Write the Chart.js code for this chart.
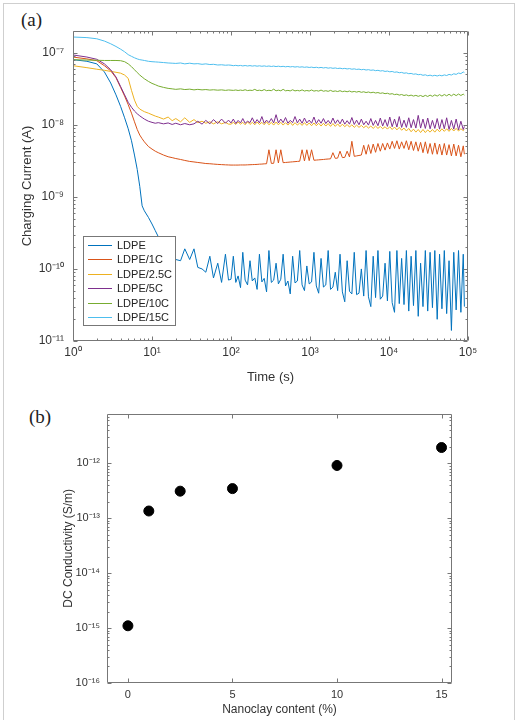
<!DOCTYPE html>
<html><head><meta charset="utf-8">
<script src="https://cdn.jsdelivr.net/npm/chart.js@4"></script>
<style>
html,body{margin:0;padding:0;background:#fff;width:519px;height:720px;overflow:hidden;position:relative;}
#frame{position:absolute;left:3px;top:3px;width:512px;height:760px;border:1.5px solid #cfcfcf;box-sizing:border-box;}
.lab{position:absolute;font-family:'Liberation Serif','Times New Roman',serif;font-size:19px;color:#222;line-height:19px;}
canvas{position:absolute;left:0;}
</style></head><body>
<div id="frame"></div>
<div class="lab" style="left:21px;top:10px">(a)</div>
<div class="lab" style="left:29px;top:407px">(b)</div>
<canvas id="ca" width="519" height="400" style="top:0"></canvas>
<canvas id="cb" width="519" height="320" style="top:400px"></canvas>
<script>
// ---------- data: chart (a) charging current ----------
const seriesNames = ['LDPE','LDPE/1C','LDPE/2.5C','LDPE/5C','LDPE/10C','LDPE/15C'];
const seriesColors = ['#0072BD','#D95319','#EDB120','#7E2F8E','#77AC30','#4DBEEE'];

// time (s): early part, then dense late part
const timeEarly = [1,1.5,2,2.5,3,3.5,4,4.5,5,5.5,
6,6.5,7,7.5,8,9,10,11,12,14,
16,18,20,23,26,30,34,38,43,48,
54,60,68,76,85,93];
const timeLate = [100,107,115,123,132,141,151,162,174,186,
200,214,229,246,263,282,302,324,347,372,
398,427,457,490,525,562,603,646,692,741,
794,851,912,977,1047,1122,1202,1288,1380,1479,
1585,1698,1820,1950,2089,2239,2399,2570,2754,2951,
3162,3388,3631,3890,4169,4467,4786,5129,5495,5888,
6310,6761,7244,7762,8318,8913,9550,10233,10965,11749,
12589,13490,14454,15488,16596,17783,19055,20417,21878,23442,
25119,26915,28840,30903,33113,35481,38019,40738,43652,46774,
50119,53703,57544,61660,66069,70795,75858,81283,87096,90000];

// current (A) at timeEarly followed by timeLate
const iLDPE = [8.0e-8,7.6e-8,7.0e-8,5.4e-8,3.8e-8,2.6e-8,1.8e-8,1.25e-8,8.8e-9,6.0e-9,
3.8e-9,2.4e-9,1.4e-9,7.5e-10,6.4e-10,5.2e-10,4.2e-10,3.4e-10,2.8e-10,2.0e-10,
1.6e-10,1.4e-10,1.35e-10,1.3e-10,1.9e-10,1.35e-10,1.9e-10,1.05e-10,1.0e-10,9.0e-11,
1.5e-10,7.5e-11,1.2e-10,6.5e-11,1.6e-10,7.0e-11,
7.2e-11,1.5e-10,6.5e-11,8.0e-11,5.5e-11,1.7e-10,7.0e-11,6.0e-11,1.3e-10,6.8e-11,
7.5e-11,5.2e-11,1.6e-10,6.6e-11,7.4e-11,4.8e-11,1.8e-10,6.5e-11,7.0e-11,1.2e-10,
6.2e-11,7.2e-11,1.6e-10,5.8e-11,6.8e-11,4.5e-11,1.5e-10,6.4e-11,6.8e-11,1.8e-10,
6.0e-11,5.0e-11,1.1e-10,6.2e-11,6.6e-11,1.7e-10,5.8e-11,4.6e-11,1.4e-10,5.6e-11,
6.0e-11,1.8e-10,5.2e-11,5.6e-11,9.0e-11,5.0e-11,1.6e-10,4.8e-11,3.5e-11,1.3e-10,
4.9e-11,4.5e-11,1.7e-10,4.4e-11,4.6e-11,1.0e-10,4.2e-11,1.8e-10,4.1e-11,3.0e-11,
1.5e-10,4.0e-11,1.8e-10,3.8e-11,4.2e-11,1.2e-10,3.6e-11,1.75e-10,3.4e-11,2.5e-11,
1.8e-10,3.3e-11,1.4e-10,3.2e-11,1.8e-10,2.6e-11,1.5e-10,3.1e-11,1.8e-10,2.2e-11,
1.2e-10,3.0e-11,1.8e-10,2.6e-11,1.7e-10,2.9e-11,1.8e-10,2.0e-11,1.6e-10,2.8e-11,
1.8e-10,2.4e-11,1.3e-10,1.4e-11,1.7e-10,2.7e-11,1.8e-10,2.5e-11,1.6e-10,3.0e-11];

const i1C = [8.7e-8,8.2e-8,7.75e-8,6.6e-8,5.6e-8,4.5e-8,3.3e-8,2.5e-8,1.9e-8,1.45e-8,
1.1e-8,8.6e-9,7.2e-9,6.4e-9,5.8e-9,5.0e-9,4.6e-9,4.3e-9,4.1e-9,3.8e-9,
3.6e-9,3.5e-9,3.4e-9,3.3e-9,3.2e-9,3.1e-9,3.05e-9,3.0e-9,2.95e-9,2.9e-9,
2.88e-9,2.85e-9,2.82e-9,2.8e-9,2.78e-9,2.77e-9,
2.76e-9,2.76e-9,2.76e-9,2.76e-9,2.77e-9,2.77e-9,2.77e-9,2.78e-9,2.79e-9,2.8e-9,
2.81e-9,2.82e-9,2.84e-9,2.85e-9,2.87e-9,2.88e-9,4.5e-9,2.91e-9,2.92e-9,4.5e-9,
2.95e-9,4.5e-9,2.98e-9,3.0e-9,3.02e-9,3.04e-9,3.06e-9,3.08e-9,3.1e-9,3.12e-9,
4.5e-9,3.15e-9,4.5e-9,3.18e-9,4.5e-9,3.22e-9,3.24e-9,3.26e-9,3.28e-9,3.3e-9,
3.33e-9,3.35e-9,3.37e-9,4.1e-9,3.42e-9,3.45e-9,4.3e-9,3.5e-9,3.53e-9,4.3e-9,
3.58e-9,5.9e-9,3.65e-9,3.7e-9,3.75e-9,3.8e-9,5.2e-9,3.9e-9,5.3e-9,4.0e-9,
5.4e-9,4.15e-9,5.5e-9,4.3e-9,5.5e-9,4.45e-9,5.6e-9,4.6e-9,5.9e-9,4.7e-9,
6.0e-9,4.6e-9,5.8e-9,4.7e-9,6.0e-9,4.5e-9,5.9e-9,4.4e-9,5.8e-9,4.3e-9,
5.7e-9,4.1e-9,5.8e-9,4.0e-9,5.5e-9,3.9e-9,5.6e-9,3.9e-9,5.4e-9,3.8e-9,
5.5e-9,3.8e-9,5.3e-9,3.7e-9,5.4e-9,3.7e-9,5.2e-9,3.6e-9,5.1e-9,3.9e-9];

const i25C = [6.6e-8,6.2e-8,5.9e-8,5.7e-8,5.5e-8,5.35e-8,5.2e-8,4.9e-8,4.4e-8,3.0e-8,
2.2e-8,1.8e-8,1.65e-8,1.58e-8,1.52e-8,1.45e-8,1.38e-8,1.32e-8,1.28e-8,1.2e-8,
1.28e-8,1.14e-8,1.22e-8,1.1e-8,1.25e-8,1.08e-8,1.18e-8,1.07e-8,1.12e-8,1.05e-8,
1.1e-8,1.03e-8,1.1e-8,1.03e-8,1.08e-8,1.02e-8,
1.02e-8,1.08e-8,1.01e-8,1.09e-8,1.02e-8,1.08e-8,1.0e-8,1.1e-8,1.01e-8,1.08e-8,
1.0e-8,1.09e-8,1.01e-8,1.08e-8,1.0e-8,1.1e-8,1.0e-8,1.08e-8,9.9e-9,1.09e-8,
1.0e-8,1.08e-8,9.9e-9,1.07e-8,9.9e-9,1.08e-8,9.8e-9,1.07e-8,9.9e-9,1.06e-8,
9.8e-9,1.07e-8,9.8e-9,1.06e-8,9.7e-9,1.06e-8,9.7e-9,1.05e-8,9.6e-9,1.05e-8,
9.6e-9,1.04e-8,9.5e-9,1.04e-8,9.5e-9,1.03e-8,9.4e-9,1.02e-8,9.4e-9,1.01e-8,
9.3e-9,1.0e-8,9.2e-9,9.9e-9,9.2e-9,9.8e-9,9.1e-9,9.7e-9,9.0e-9,9.6e-9,
8.9e-9,9.6e-9,8.9e-9,9.5e-9,8.8e-9,9.4e-9,8.7e-9,9.4e-9,8.6e-9,9.3e-9,
8.5e-9,9.2e-9,8.4e-9,9.0e-9,8.2e-9,8.9e-9,8.0e-9,8.7e-9,7.9e-9,8.6e-9,
7.8e-9,8.6e-9,7.8e-9,8.5e-9,7.9e-9,8.6e-9,7.9e-9,8.7e-9,8.0e-9,8.8e-9,
8.1e-9,8.8e-9,8.1e-9,8.9e-9,8.2e-9,8.9e-9,8.2e-9,8.8e-9,8.3e-9,8.6e-9];

const i5C = [9.3e-8,8.7e-8,8.1e-8,7.0e-8,5.8e-8,4.6e-8,3.4e-8,2.6e-8,2.05e-8,1.75e-8,
1.55e-8,1.42e-8,1.33e-8,1.26e-8,1.2e-8,1.12e-8,1.08e-8,1.05e-8,1.07e-8,1.03e-8,
1.06e-8,1.01e-8,1.05e-8,1.0e-8,1.04e-8,1.0e-8,1.03e-8,1.12e-8,1.02e-8,1.15e-8,
1.03e-8,1.18e-8,1.04e-8,1.2e-8,1.05e-8,1.16e-8,
1.06e-8,1.2e-8,1.04e-8,1.15e-8,1.06e-8,1.22e-8,1.05e-8,1.12e-8,1.07e-8,1.25e-8,
1.05e-8,1.18e-8,1.06e-8,1.3e-8,1.05e-8,1.16e-8,1.07e-8,1.22e-8,1.06e-8,1.38e-8,
1.06e-8,1.2e-8,1.07e-8,1.26e-8,1.05e-8,1.15e-8,1.07e-8,1.3e-8,1.06e-8,1.2e-8,
1.05e-8,1.24e-8,1.06e-8,1.16e-8,1.05e-8,1.28e-8,1.04e-8,1.18e-8,1.05e-8,1.22e-8,
1.04e-8,1.15e-8,1.03e-8,1.24e-8,1.04e-8,1.17e-8,1.03e-8,1.2e-8,1.02e-8,1.14e-8,
1.02e-8,1.26e-8,1.01e-8,1.16e-8,1.0e-8,1.2e-8,1.0e-8,1.12e-8,9.9e-9,1.22e-8,
9.8e-9,1.15e-8,9.7e-9,1.24e-8,9.6e-9,1.18e-8,9.5e-9,1.28e-8,9.4e-9,1.2e-8,
9.3e-9,1.3e-8,9.2e-9,1.16e-8,9.2e-9,1.25e-8,9.1e-9,1.18e-8,9.0e-9,1.35e-8,
9.0e-9,1.2e-8,8.9e-9,1.24e-8,8.8e-9,1.15e-8,8.9e-9,1.22e-8,8.7e-9,1.18e-8,
8.8e-9,1.25e-8,8.6e-9,1.15e-8,8.7e-9,1.2e-8,8.5e-9,1.12e-8,8.6e-9,9.5e-9];

const i10C = [8.0e-8,7.9e-8,7.85e-8,7.8e-8,7.8e-8,7.8e-8,7.75e-8,7.5e-8,7.0e-8,6.4e-8,
5.8e-8,5.3e-8,4.9e-8,4.6e-8,4.35e-8,4.0e-8,3.75e-8,3.6e-8,3.45e-8,3.3e-8,
3.2e-8,3.15e-8,3.1e-8,3.15e-8,3.08e-8,3.12e-8,3.05e-8,3.1e-8,3.05e-8,3.08e-8,
3.03e-8,3.06e-8,3.02e-8,3.05e-8,3.0e-8,3.04e-8,
3.02e-8,3.0e-8,3.04e-8,2.99e-8,3.03e-8,2.99e-8,3.06e-8,2.98e-8,3.02e-8,2.99e-8,
3.1e-8,2.98e-8,3.02e-8,2.97e-8,3.08e-8,2.97e-8,3.01e-8,2.97e-8,3.12e-8,2.96e-8,
3.02e-8,2.96e-8,3.1e-8,2.96e-8,3.0e-8,2.95e-8,3.06e-8,2.95e-8,3.0e-8,2.95e-8,
3.05e-8,2.94e-8,2.99e-8,2.94e-8,3.04e-8,2.93e-8,2.98e-8,2.93e-8,3.03e-8,2.92e-8,
2.97e-8,2.91e-8,3.0e-8,2.9e-8,2.95e-8,2.89e-8,2.97e-8,2.88e-8,2.93e-8,2.87e-8,
2.94e-8,2.85e-8,2.9e-8,2.84e-8,2.9e-8,2.82e-8,2.87e-8,2.8e-8,2.85e-8,2.78e-8,
2.83e-8,2.76e-8,2.8e-8,2.73e-8,2.77e-8,2.7e-8,2.74e-8,2.66e-8,2.7e-8,2.62e-8,
2.66e-8,2.58e-8,2.63e-8,2.55e-8,2.6e-8,2.52e-8,2.58e-8,2.5e-8,2.56e-8,2.48e-8,
2.55e-8,2.46e-8,2.56e-8,2.47e-8,2.58e-8,2.48e-8,2.6e-8,2.5e-8,2.62e-8,2.5e-8,
2.63e-8,2.52e-8,2.65e-8,2.52e-8,2.66e-8,2.54e-8,2.67e-8,2.55e-8,2.66e-8,2.58e-8];

const i15C = [1.65e-7,1.62e-7,1.56e-7,1.45e-7,1.33e-7,1.22e-7,1.12e-7,1.03e-7,9.4e-8,8.9e-8,
8.5e-8,8.2e-8,8.0e-8,7.9e-8,7.8e-8,7.6e-8,7.5e-8,7.45e-8,7.4e-8,7.3e-8,
7.2e-8,7.15e-8,7.1e-8,7.2e-8,7.0e-8,7.15e-8,7.0e-8,7.05e-8,6.9e-8,7.0e-8,
6.85e-8,6.9e-8,6.75e-8,6.8e-8,6.7e-8,6.75e-8,
6.7e-8,6.6e-8,6.68e-8,6.58e-8,6.66e-8,6.55e-8,6.64e-8,6.54e-8,6.62e-8,6.52e-8,
6.6e-8,6.5e-8,6.58e-8,6.48e-8,6.56e-8,6.46e-8,6.54e-8,6.44e-8,6.52e-8,6.42e-8,
6.5e-8,6.4e-8,6.47e-8,6.37e-8,6.45e-8,6.35e-8,6.42e-8,6.32e-8,6.4e-8,6.3e-8,
6.37e-8,6.27e-8,6.34e-8,6.24e-8,6.31e-8,6.2e-8,6.28e-8,6.17e-8,6.25e-8,6.14e-8,
6.22e-8,6.1e-8,6.18e-8,6.07e-8,6.14e-8,6.03e-8,6.1e-8,5.99e-8,6.06e-8,5.95e-8,
6.02e-8,5.9e-8,5.97e-8,5.86e-8,5.92e-8,5.8e-8,5.87e-8,5.75e-8,5.82e-8,5.7e-8,
5.76e-8,5.63e-8,5.7e-8,5.57e-8,5.63e-8,5.5e-8,5.56e-8,5.43e-8,5.49e-8,5.35e-8,
5.41e-8,5.27e-8,5.33e-8,5.19e-8,5.25e-8,5.11e-8,5.16e-8,5.03e-8,5.08e-8,4.95e-8,
5.0e-8,4.86e-8,4.93e-8,4.79e-8,4.88e-8,4.76e-8,4.86e-8,4.75e-8,4.87e-8,4.77e-8,
4.92e-8,4.82e-8,5.0e-8,4.9e-8,5.1e-8,5.0e-8,5.22e-8,5.12e-8,5.4e-8,5.3e-8];

const xTicksA = [1,10,100,1000,10000,100000];
const xTickLabelsA = ['10\u2070','10\u00B9','10\u00B2','10\u00B3','10\u2074','10\u2075'];
const yTicksA = [1e-11,1e-10,1e-9,1e-8,1e-7];
const yTickLabelsA = ['10\u207B\u00B9\u00B9','10\u207B\u00B9\u2070','10\u207B\u2079','10\u207B\u2078','10\u207B\u2077'];

// ---------- data: chart (b) DC conductivity ----------
const nanoclay = [0,1,2.5,5,10,15];
const conductivity = [1.1e-15,1.35e-13,3.1e-13,3.45e-13,9.1e-13,1.93e-12];
const xTicksB = [0,5,10,15];
const xTickLabelsB = ['0','5','10','15'];
const yTicksB = [1e-16,1e-15,1e-14,1e-13,1e-12];
const yTickLabelsB = ['10\u207B\u00B9\u2076','10\u207B\u00B9\u2075','10\u207B\u00B9\u2074','10\u207B\u00B9\u00B3','10\u207B\u00B9\u00B2'];

// ---------- helpers ----------
function logMinor(min, max){
  const out = [];
  for (let e = Math.floor(Math.log10(min)); e <= Math.ceil(Math.log10(max)); e++){
    for (let m = 2; m <= 9; m++){
      const v = m * Math.pow(10, e);
      if (v > min * 1.0001 && v < max * 0.9999) out.push(v);
    }
  }
  return out;
}

const axesBox = {
  id: 'axesBox',
  afterDatasetsDraw(chart, args, o){
    const {ctx, chartArea: a} = chart;
    const sx = chart.scales.x, sy = chart.scales.y;
    const L = Math.round(a.left) + 0.5, R = Math.round(a.right) - 0.5;
    const T = Math.round(a.top) + 0.5, B = Math.round(a.bottom) - 0.5;
    ctx.save();
    ctx.strokeStyle = o.color; ctx.lineWidth = 1;
    ctx.beginPath();
    ctx.rect(L, T, R - L, B - T);
    const xt = (vals, len) => vals.forEach(v => {
      const p = Math.round(sx.getPixelForValue(v)) + 0.5;
      ctx.moveTo(p, B); ctx.lineTo(p, B - len);
      ctx.moveTo(p, T); ctx.lineTo(p, T + len);
    });
    const yt = (vals, len) => vals.forEach(v => {
      const p = Math.round(sy.getPixelForValue(v)) + 0.5;
      ctx.moveTo(L, p); ctx.lineTo(L + len, p);
      ctx.moveTo(R, p); ctx.lineTo(R - len, p);
    });
    xt(o.xMajor, o.major); xt(o.xMinor, o.minor);
    yt(o.yMajor, o.major); yt(o.yMinor, o.minor);
    ctx.stroke();
    ctx.restore();
  }
};

const boxLegend = {
  id: 'boxLegend',
  afterDraw(chart, args, o){
    if (!o || !o.display) return;
    const {ctx} = chart;
    ctx.save();
    ctx.fillStyle = '#fff';
    ctx.fillRect(o.x, o.y, o.w, o.h);
    ctx.strokeStyle = o.border; ctx.lineWidth = 1;
    ctx.strokeRect(o.x + 0.5, o.y + 0.5, o.w, o.h);
    ctx.font = o.font; ctx.textBaseline = 'middle'; ctx.textAlign = 'left';
    o.labels.forEach((label, k) => {
      const y = Math.round(o.y + o.first + k * o.step);
      ctx.strokeStyle = o.colors[k]; ctx.lineWidth = 1;
      ctx.beginPath(); ctx.moveTo(o.x + o.lineX0, y + 0.5); ctx.lineTo(o.x + o.lineX1, y + 0.5); ctx.stroke();
      ctx.fillStyle = o.textColor;
      ctx.fillText(label, o.x + o.textX, y + 0.5);
    });
    ctx.restore();
  }
};

Chart.defaults.font.family = "'Liberation Sans', Arial, Helvetica, sans-serif";
Chart.defaults.color = '#333';

// ---------- chart (a) ----------
const timeAll = timeEarly.concat(timeLate);
const seriesI = [iLDPE, i1C, i25C, i5C, i10C, i15C];
const datasetsA = seriesNames.map((name, k) => ({
  label: name,
  data: timeAll.map((t, j) => ({x: t, y: seriesI[k][j]})),
  borderColor: seriesColors[k],
  backgroundColor: seriesColors[k],
  borderWidth: 1,
  pointRadius: 0,
  showLine: true,
  fill: false,
  tension: 0,
  order: 6 - k
}));

new Chart(document.getElementById('ca'), {
  type: 'scatter',
  data: {datasets: datasetsA},
  options: {
    responsive: false, animation: false, devicePixelRatio: 1,
    layout: {padding: {left: 0, right: 51, top: 31, bottom: 0}},
    scales: {
      x: {
        type: 'logarithmic', min: 1, max: 1e5, position: 'bottom',
        grid: {display: false, drawTicks: false}, border: {display: false},
        afterBuildTicks: s => { s.ticks = xTicksA.map(v => ({value: v})); },
        afterFit: s => { s.height = 59; },
        ticks: {callback: (v, i) => xTickLabelsA[i], padding: 4, color: '#333', font: {size: 12}, maxRotation: 0, autoSkip: false},
        title: {display: true, text: 'Time (s)', color: '#333', font: {size: 13}, padding: {top: 0, bottom: 15}}
      },
      y: {
        type: 'logarithmic', min: 1e-11, max: 2e-7, position: 'left',
        grid: {display: false, drawTicks: false}, border: {display: false},
        afterBuildTicks: s => { s.ticks = yTicksA.map(v => ({value: v})); },
        afterFit: s => { s.width = 73; },
        ticks: {callback: (v, i) => yTickLabelsA[i], padding: 9, color: '#333', font: {size: 12}, autoSkip: false},
        title: {display: true, text: 'Charging Current (A)', color: '#333', font: {size: 13}, padding: {top: 20, bottom: 0}}
      }
    },
    plugins: {
      legend: {display: false}, tooltip: {enabled: false},
      axesBox: {color: '#777', major: 4, minor: 2,
        xMajor: xTicksA, xMinor: logMinor(1, 1e5), yMajor: yTicksA, yMinor: logMinor(1e-11, 2e-7)},
      boxLegend: {display: true, x: 83, y: 236, w: 92, h: 89, first: 9, step: 14.4,
        lineX0: 5, lineX1: 29, textX: 34, font: "11px 'Liberation Sans', Arial, sans-serif",
        border: '#777', textColor: '#222', labels: seriesNames, colors: seriesColors}
    }
  },
  plugins: [axesBox, boxLegend]
});

// ---------- chart (b) ----------
new Chart(document.getElementById('cb'), {
  type: 'scatter',
  data: {datasets: [{
    label: 'DC Conductivity',
    data: nanoclay.map((x, j) => ({x: x, y: conductivity[j]})),
    backgroundColor: '#000', borderColor: '#000',
    pointRadius: 5, pointHoverRadius: 5, showLine: false
  }]},
  options: {
    responsive: false, animation: false, devicePixelRatio: 1,
    layout: {padding: {left: 0, right: 67, top: 12, bottom: 0}},
    scales: {
      x: {
        type: 'linear', min: -1, max: 15.5, position: 'bottom',
        grid: {display: false, drawTicks: false}, border: {display: false},
        afterBuildTicks: s => { s.ticks = xTicksB.map(v => ({value: v})); },
        afterFit: s => { s.height = 37; },
        ticks: {callback: (v, i) => xTickLabelsB[i], padding: 5, color: '#333', font: {size: 11}, maxRotation: 0, autoSkip: false},
        title: {display: true, text: 'Nanoclay content (%)', color: '#333', font: {size: 12}, padding: {top: 0, bottom: 3}}
      },
      y: {
        type: 'logarithmic', min: 1e-16, max: 8e-12, position: 'left',
        grid: {display: false, drawTicks: false}, border: {display: false},
        afterBuildTicks: s => { s.ticks = yTicksB.map(v => ({value: v})); },
        afterFit: s => { s.width = 107; },
        ticks: {callback: (v, i) => yTickLabelsB[i], padding: 7, color: '#333', font: {size: 11}, autoSkip: false},
        title: {display: true, text: 'DC Conductivity (S/m)', color: '#333', font: {size: 12}, padding: {top: 61, bottom: 0}}
      }
    },
    plugins: {
      legend: {display: false}, tooltip: {enabled: false},
      axesBox: {color: '#777', major: 4, minor: 2,
        xMajor: xTicksB, xMinor: [], yMajor: yTicksB, yMinor: logMinor(1e-16, 8e-12)},
      boxLegend: {display: false}
    }
  },
  plugins: [axesBox, boxLegend]
});
</script>
</body></html>
